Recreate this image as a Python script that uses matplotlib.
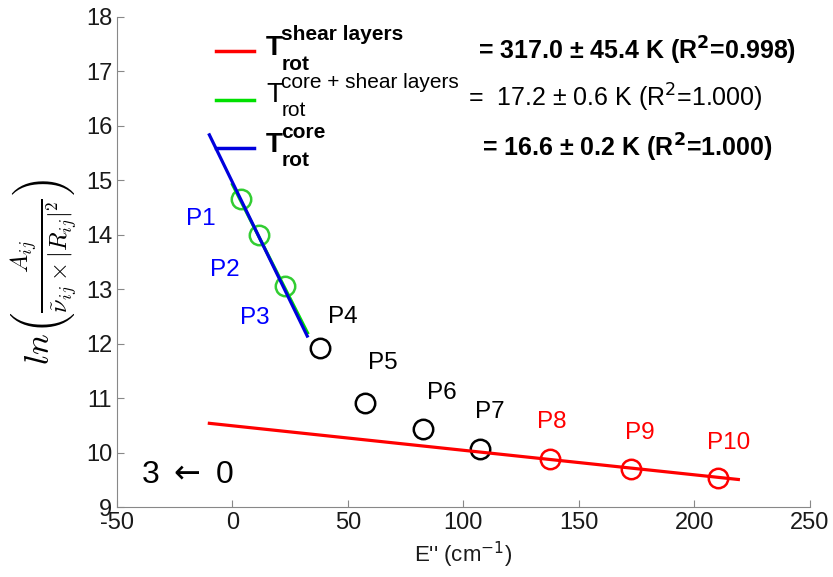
import numpy as np
import matplotlib
matplotlib.use('Agg')
import matplotlib.pyplot as plt
from matplotlib.lines import Line2D

plt.rcParams['font.family'] = ['Liberation Sans', 'DejaVu Sans']
plt.rcParams['axes.unicode_minus'] = False

# energia (cm-1) y ln(...) de cada pico
etiquetas = ['P1', 'P2', 'P3', 'P4', 'P5', 'P6', 'P7', 'P8', 'P9', 'P10']
E = [3.6, 11.6, 22.8, 37.9, 57.4, 82.4, 107.2, 137.5, 172.5, 210.4]
lnA = [14.66, 14.00, 13.05, 11.92, 10.92, 10.43, 10.06, 9.88, 9.70, 9.54]
grupo = ['core', 'core', 'core', 'mid', 'mid', 'mid', 'mid', 'shear', 'shear', 'shear']

# posicion de las etiquetas P
lab_x = [-13.6, -3.2, 9.8, 47.9, 65.2, 90.8, 111.5, 138.4, 176.5, 215.0]
lab_y = [14.28, 13.35, 12.47, 12.49, 11.64, 11.09, 10.75, 10.57, 10.36, 10.17]

# rectas de ajuste (extremos)
shear_x = [-10.0, 219.1]
shear_y = [10.54, 9.51]
both_x = [0.0, 32.5]
both_y = [14.92, 12.20]
core_x = [-10.0, 32.4]
core_y = [15.83, 12.14]

W, H = 833, 577
fig = plt.figure(figsize=(W / 100, H / 100), dpi=100)
ax = fig.add_axes([117 / W, 1 - 507.3 / H, (809.7 - 117) / W, (507.3 - 16.5) / H])

col_pt = {'core': 'limegreen', 'mid': 'black', 'shear': 'red'}
col_lab = {'core': 'blue', 'mid': 'black', 'shear': 'red'}

for i in range(len(E)):
    ax.plot(E[i], lnA[i], 'o', ms=14, mfc='none', mec=col_pt[grupo[i]], mew=1.8, zorder=2)
    ax.text(lab_x[i], lab_y[i], etiquetas[i], color=col_lab[grupo[i]], fontsize=17.5,
            ha='center', va='center')

ax.plot(shear_x, shear_y, color='red', lw=2.3, zorder=3)
ax.plot(both_x, both_y, color='#00e000', lw=2.3, zorder=3)
ax.plot(core_x, core_y, color='#0000dd', lw=2.3, zorder=4)

ax.text(-19.3, 9.59, r'3 $\leftarrow$ 0', fontsize=23, ha='center', va='center',
        math_fontfamily='dejavusans')

ax.set_xlim(-50, 250)
ax.set_ylim(9, 18)
ax.set_xticks(np.arange(-50, 251, 50))
ax.set_yticks(np.arange(9, 19, 1))
ax.spines['top'].set_visible(False)
ax.spines['right'].set_visible(False)
for s in ['left', 'bottom']:
    ax.spines[s].set_color('#888888')
ax.tick_params(direction='in', length=5, color='#888888', labelsize=17, labelcolor='#1a1a1a')

ax.set_xlabel("E'' (cm$^{-1}$)", fontsize=16, color='#1a1a1a', labelpad=4)
ax.set_ylabel(r'$ln\left(\frac{A_{ij}}{\tilde{\nu}_{ij}\times|R_{ij}|^2}\right)$',
              fontsize=25, math_fontfamily='cm')
ax.yaxis.set_label_coords(-0.053, 0.48)


def px(x, y):
    return x / W, 1 - y / H


# leyenda hecha a mano
for (yy, c) in [(50.7, 'red'), (100, '#00e000'), (148.3, '#0000dd')]:
    fig.add_artist(Line2D([216 / W, 254 / W], [1 - yy / H, 1 - yy / H], color=c, lw=2.5,
                          transform=fig.transFigure))

filas = [
    (48, 'shear layers', 'bold', '= 317.0 \u00b1 45.4 K (R$^{\\mathbf{2}}$=0.998)', 478),
    (95, 'core + shear layers', 'normal', '=  17.2 \u00b1 0.6 K (R$^2$=1.000)', 468),
    (145, 'core', 'bold', '= 16.6 \u00b1 0.2 K (R$^{\\mathbf{2}}$=1.000)', 482),
]
for (yc, sup, w, val, xv) in filas:
    fig.text(*px(266, yc), 'T', fontsize=20, fontweight=w, ha='left', va='center')
    fig.text(*px(281, yc - 13), sup, fontsize=15, fontweight=w, ha='left', va='center')
    fig.text(*px(282, yc + 16), 'rot', fontsize=15, fontweight=w, ha='left', va='center')
    fig.text(*px(xv, yc + 3), val, fontsize=18, fontweight=w, ha='left', va='center')

fig.savefig('out.png', dpi=100)
